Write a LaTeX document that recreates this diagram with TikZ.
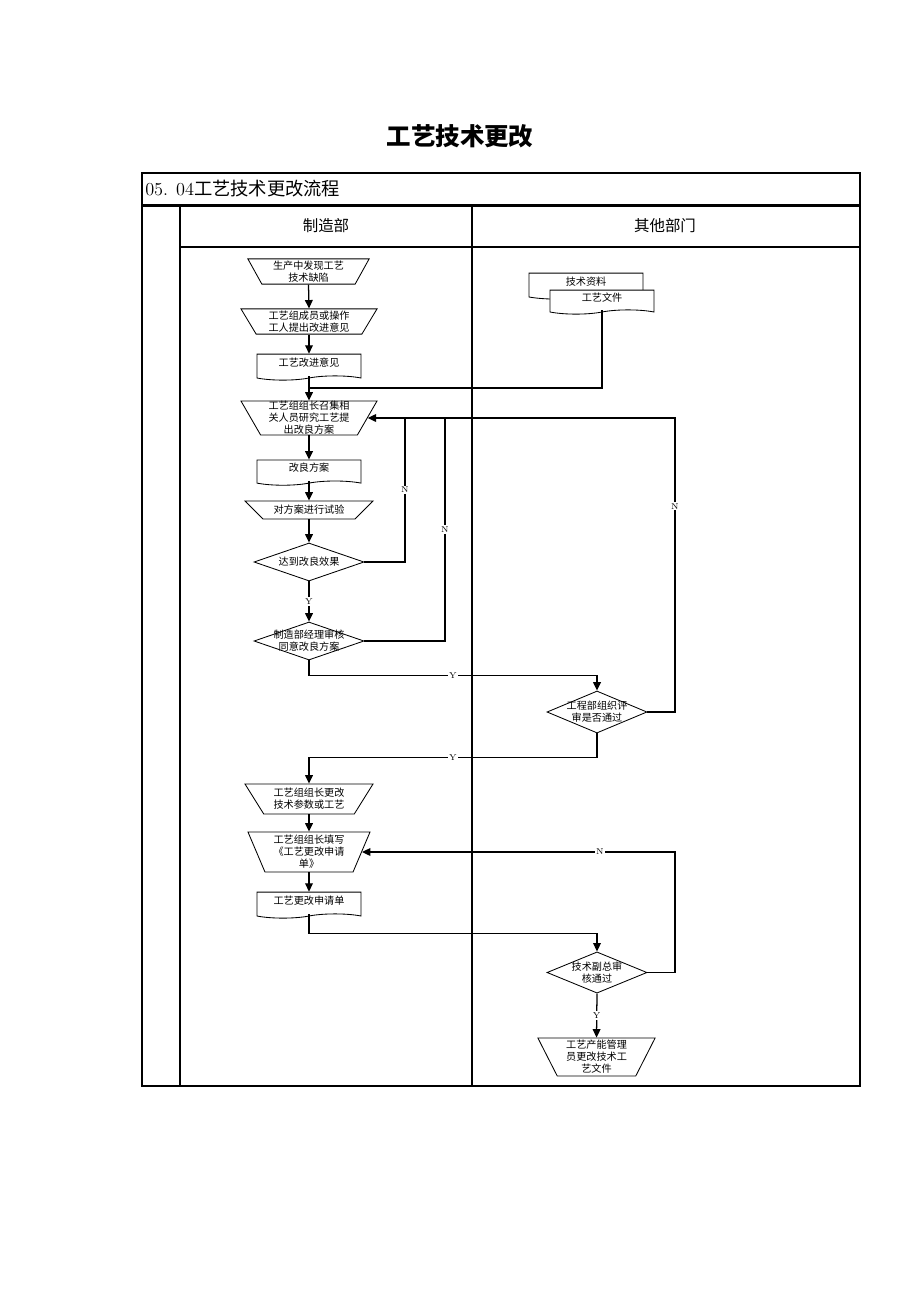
\documentclass[tikz,border=0pt]{standalone}
\usepackage{fontspec}
\usetikzlibrary{arrows.meta,shapes.geometric,shapes.symbols}
\newfontfamily\cjk{Noto Sans CJK SC}
% text box of no size, so the shape takes its size from the minimum keys
\newcommand{\ctr}[2][-2.6pt]{\makebox[0pt]{\raisebox{#1}[0pt][0pt]{\begin{tabular}{@{}c@{}}#2\end{tabular}}}}

\begin{document}
\begin{tikzpicture}[
  x=0.025cm, y=-0.025cm,
  font=\cjk\fontsize{7.2}{8.5}\selectfont,
  mop/.style n args={3}{trapezium, trapezium left angle=#1, trapezium right angle=#1, shape border rotate=180, trapezium stretches body, minimum width=#2, text height=#3, text depth=#3, draw, line width=0.6pt, inner sep=0pt},
  doc/.style={tape, tape bend top=none, tape bend bottom=in and out, tape bend height=3pt, draw, fill=white, line width=0.6pt, inner sep=0pt},
  dec/.style={diamond, draw, line width=0.6pt, inner sep=0pt},
  a/.style={-{Triangle[length=6pt,width=5.5pt]}, line width=0.9pt},
  yn/.style={fill=white, inner sep=1pt, font=\rmfamily\fontsize{6}{7}\selectfont},
  frm/.style={line width=1.3pt}
]
\useasboundingbox (0,0) rectangle (920,1302);
% frame and lanes
\node[font=\cjk\bfseries\fontsize{17.4}{20}\selectfont] (ttl) at (460,136) {工艺技术更改};
\draw[frm] (142,173) rectangle (860,1086);
\draw[line width=1.7pt] (142,205.5) -- (860,205.5);
\draw[frm] (180,205.5) -- (180,1086);
\draw[frm] (472,205.5) -- (472,1086);
\draw[line width=0.9pt] (180,247) -- (860,247);
\node[anchor=west, inner sep=0pt, font=\cjk\fontsize{13}{15}\selectfont] (hd) at (145,189) {{\rmfamily 05. 04}工艺技术更改流程};
\node[font=\cjk\fontsize{11}{13}\selectfont] (ln1) at (326,226) {制造部};
\node[font=\cjk\fontsize{11}{13}\selectfont] (ln2) at (665,226) {其他部门};
% steps
\node[mop={61}{3.03cm}{0.315cm}] (n1) at (308.5,271.5) {\ctr{生产中发现工艺\\技术缺陷}};
\node[mop={59}{3.4cm}{0.315cm}] (n2) at (309,321.5) {\ctr{工艺组成员或操作\\工人提出改进意见}};
\node[doc, minimum width=2.6cm, minimum height=0.65cm] (doc3) at (309,365) {\ctr[-0.8pt]{工艺改进意见}};
\node[mop={60}{3.4cm}{0.425cm}] (n4) at (309,418) {\ctr{工艺组组长召集相\\关人员研究工艺提\\出改良方案}};
\node[doc, minimum width=2.6cm, minimum height=0.63cm] (doc5) at (309,470.5) {\ctr[-0.8pt]{改良方案}};
\node[mop={45}{3.2cm}{0.225cm}] (n6) at (309,510) {\ctr{对方案进行试验}};
\node[dec, minimum width=2.75cm, minimum height=0.95cm] (d7) at (309,562) {\ctr{达到改良效果}};
\node[dec, minimum width=2.75cm, minimum height=0.95cm] (d8) at (309,641) {\ctr{制造部经理审核\\同意改良方案}};
\node[dec, minimum width=2.5cm, minimum height=1.05cm] (d9) at (597,712) {\ctr{工程部组织评\\审是否通过}};
\node[mop={58}{3.2cm}{0.375cm}] (n10) at (309,799) {\ctr{工艺组组长更改\\技术参数或工艺}};
\node[mop={67}{3.05cm}{0.5cm}] (n11) at (309,852) {\ctr{工艺组组长填写\\《工艺更改申请\\单》}};
\node[doc, minimum width=2.6cm, minimum height=0.65cm] (doc12) at (309,903) {\ctr[-0.8pt]{工艺更改申请单}};
\node[dec, minimum width=2.5cm, minimum height=1.03cm] (d13) at (597,972.5) {\ctr{技术副总审\\核通过}};
\node[mop={63}{2.93cm}{0.475cm}] (n14) at (596.5,1057) {\ctr{工艺产能管理\\员更改技术工\\艺文件}};
\node[doc, minimum width=2.85cm, minimum height=0.65cm] (docA) at (586,284) {\ctr[-1pt]{技术资料}};
\node[doc, minimum width=2.6cm, minimum height=0.6cm] (docB) at (602,300) {\ctr[-0.8pt]{工艺文件}};
% turning points
\coordinate (j3) at (309,388);
\coordinate (c7) at (405,418);
\coordinate (c8) at (445,418);
\coordinate (c9) at (675,418);
\coordinate (c13) at (675,852);
% connectors
\draw[a] (n1.south) -- (n2.north);
\draw[a] (n2.south) -- (doc3.north);
\draw[a] (doc3.south) -- (n4.north);
\draw[line width=0.9pt] (docB.south) |- (j3);
\draw[a] (n4.south) -- (doc5.north);
\draw[a] (doc5.south) -- (n6.north);
\draw[a] (n6.south) -- (d7.north);
\draw[a] (d7.south) -- node[yn] {Y} (d8.north);
\draw[line width=0.9pt] (d7.east) -| node[yn, pos=0.75] {N} (c7);
\draw[line width=0.9pt] (d8.east) -| node[yn, pos=0.75] {N} (c8);
\draw[a] (d9.east) -| node[yn, pos=0.85] {N} (c9) -- (n4.east);
\draw[a] (d8.south) -- ++(0,15) -| node[yn, pos=0.25] {Y} (d9.north);
\draw[a] (d9.south) -- ++(0,24) -| node[yn, pos=0.25] {Y} (n10.north);
\draw[a] (n10.south) -- (n11.north);
\draw[a] (n11.south) -- (doc12.north);
\draw[a] (doc12.south) -- ++(0,19) -| (d13.north);
\draw[a] (d13.east) -| (c13) -- node[yn, pos=0.24] {N} (n11.east);
\draw[a] (d13.south) -- node[yn] {Y} (n14.north);
\end{tikzpicture}
\end{document}
